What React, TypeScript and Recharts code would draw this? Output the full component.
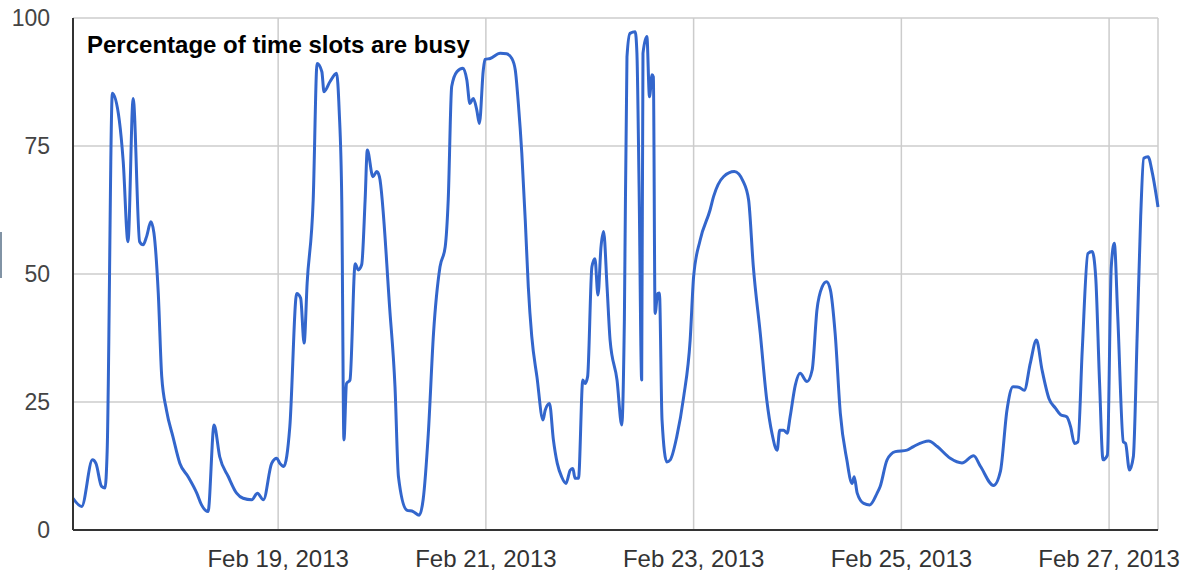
import React from "react";
import { LineChart, Line, XAxis, YAxis, CartesianGrid } from "recharts";

// hours since Feb 17, 2013 00:00
const hours: number[] = [
  0.6, 2.6, 5.1, 5.9, 7.2, 8.0, 8.5, 9.7, 11.3, 12.2, 13.3, 14.5, 16.0, 16.8, 17.6, 18.6, 19.3, 20.3, 21.1, 22.2,
  23.7, 25.3, 27.2, 29.2, 30.3, 31.8, 33.2, 34.5, 36.5, 38.4, 39.9, 41.9, 43.2, 44.6, 46.5, 47.7, 48.4, 49.3, 50.7, 52.3,
  53.2, 54.0, 54.7, 56.1, 57.0, 58.1, 58.6, 60.0, 61.5, 62.1, 62.7, 63.2, 63.8, 64.6, 65.8, 66.5, 67.3, 68.1, 68.6, 69.9,
  70.8, 71.4, 73.8, 75.0, 75.8, 77.7, 79.2, 80.6, 81.5, 82.7, 83.9, 85.4, 86.6, 87.3, 88.1, 89.3, 90.7, 91.6, 92.3, 93.1,
  93.9, 94.5, 95.4, 95.8, 97.0, 99.3, 100.8, 102.0, 102.8, 103.5, 104.3, 105.1, 105.8, 106.6, 107.8, 109.2, 109.7, 110.7, 111.6, 112.5,
  113.5, 114.5, 115.5, 116.1, 116.6, 117.4, 118.4, 118.9, 119.5, 120.5, 121.2, 121.9, 122.6, 123.2, 124.0, 124.7, 126.3, 127.4, 128.0, 128.6,
  129.3, 130.5, 130.9, 131.4, 132.0, 132.3, 133.2, 133.8, 134.4, 134.7, 135.1, 135.7, 136.1, 136.7, 137.8, 138.6, 140.1, 141.7, 143.2, 144.0,
  145.5, 147.8, 148.6, 150.9, 153.4, 155.5, 156.7, 157.8, 159.4, 160.9, 162.1, 163.3, 163.9, 164.8, 165.6, 166.3, 167.5, 168.6, 170.2, 171.4,
  172.5, 173.7, 174.7, 175.6, 176.7, 177.9, 179.4, 180.6, 181.1, 181.8, 183.3, 184.7, 186.4, 187.1, 188.7, 190.6, 193.3, 194.8, 198.3, 200.3,
  203.3, 206.0, 208.7, 210.3, 213.3, 214.9, 216.4, 217.8, 219.1, 220.4, 221.8, 223.2, 224.5, 226.1, 227.6, 228.8, 230.2, 231.1, 232.0, 232.8,
  233.8, 235.1, 236.1, 236.9, 237.8, 238.6, 239.6, 240.5, 241.2, 242.0, 243.3, 243.8, 244.7, 245.6, 246.5, 247.3, 248.0, 249.0, 250.0, 251.3,
];

const busyPct: number[] = [
  6.2, 4.6, 13.7, 13.0, 8.5, 8.2, 15.6, 85.3, 80.0, 72.0, 56.3, 84.3, 56.3, 55.7, 57.3, 60.2, 58.0, 46.3, 30.0, 23.4,
  18.2, 13.0, 10.4, 7.2, 4.9, 3.6, 20.5, 14.3, 10.4, 7.2, 6.2, 5.9, 7.2, 5.9, 13.0, 14.0, 13.0, 12.4, 20.2, 46.2,
  45.3, 36.5, 48.2, 64.5, 91.1, 89.5, 85.6, 87.6, 89.2, 82.0, 64.5, 17.6, 28.6, 29.3, 52.0, 50.8, 51.8, 64.5, 74.2, 69.0,
  70.0, 69.0, 43.0, 28.0, 10.4, 3.9, 3.6, 2.9, 5.9, 18.9, 38.4, 51.4, 55.3, 64.5, 86.6, 89.5, 90.2, 87.9, 83.3, 84.3,
  82.0, 79.4, 89.8, 91.9, 92.1, 93.1, 93.0, 92.1, 89.8, 83.3, 73.6, 60.5, 47.5, 37.8, 29.9, 21.5, 23.4, 24.7, 17.6, 13.0,
  10.4, 9.1, 11.7, 12.0, 10.1, 10.1, 29.3, 28.6, 29.9, 51.4, 53.0, 45.9, 55.3, 58.3, 47.5, 37.1, 29.3, 20.5, 41.0, 92.4,
  97.0, 97.3, 93.1, 67.0, 29.3, 93.1, 96.4, 84.6, 88.9, 88.5, 42.3, 46.2, 46.3, 21.5, 13.3, 13.7, 18.2, 26.0, 37.1, 49.5,
  56.6, 62.5, 65.1, 69.0, 70.0, 68.0, 64.5, 51.4, 38.4, 25.4, 18.9, 15.6, 19.5, 19.5, 18.9, 22.1, 28.3, 30.6, 29.0, 31.3,
  43.0, 47.5, 48.5, 46.9, 38.4, 22.8, 13.7, 9.1, 10.4, 7.2, 5.2, 4.9, 7.2, 8.5, 13.7, 15.3, 15.6, 16.3, 17.4, 16.3,
  14.0, 13.1, 14.5, 12.4, 8.7, 11.5, 23.4, 28.0, 27.9, 27.3, 32.6, 37.1, 31.3, 25.7, 23.8, 22.5, 22.1, 20.2, 16.9, 17.2,
  35.2, 54.0, 54.4, 49.5, 28.7, 13.7, 14.6, 51.4, 56.0, 41.7, 17.2, 16.9, 11.7, 14.3, 38.4, 61.2, 72.6, 72.9, 69.7, 63.1,
];

const xTickHours: number[] = [48, 96, 144, 192, 240];
const xTickLabels: string[] = ["Feb 19, 2013", "Feb 21, 2013", "Feb 23, 2013", "Feb 25, 2013", "Feb 27, 2013"];
const yTicks: number[] = [0, 25, 50, 75, 100];
const title = "Percentage of time slots are busy";

const data = hours.map((h, i) => ({ h, v: busyPct[i] }));
const FONT = "Arial, 'Liberation Sans', sans-serif";

export default function App() {
  return (
    <div style={{ position: "absolute", left: 0, top: 0, width: 1200, height: 573, background: "#fff" }}>
      <LineChart width={1200} height={573} data={data} margin={{ top: 18, right: 42, left: 0, bottom: 13 }}>
        <CartesianGrid stroke="#cccccc" strokeWidth={1.5} />
        <XAxis
          type="number"
          dataKey="h"
          domain={[0.6, 251.3]}
          ticks={xTickHours}
          tickFormatter={(t: number) => xTickLabels[xTickHours.indexOf(t)] ?? ""}
          height={30}
          tickLine={false}
          tickSize={0}
          tickMargin={20}
          axisLine={{ stroke: "#333", strokeWidth: 2 }}
          tick={{ fill: "#333", fontSize: 24, fontFamily: FONT }}
          interval={0}
        />
        <YAxis
          type="number"
          domain={[0, 100]}
          ticks={yTicks}
          width={73}
          tickLine={false}
          tickSize={0}
          tickMargin={23}
          axisLine={{ stroke: "#333", strokeWidth: 2 }}
          tick={{ fill: "#444", fontSize: 23, fontFamily: FONT }}
          interval={0}
        />
        <Line
          type="monotone"
          dataKey="v"
          stroke="#3366cc"
          strokeWidth={3}
          dot={false}
          isAnimationActive={false}
          strokeLinejoin="round"
        />
      </LineChart>
      <svg width={1200} height={573} style={{ position: "absolute", left: 0, top: 0, pointerEvents: "none" }}>
        <text x={87} y={53} fontFamily={FONT} fontWeight="bold" fontSize={24} fill="#000">
          {title}
        </text>
      </svg>
      <div style={{ position: "absolute", left: 0, top: 232, width: 2, height: 46, background: "#8193a5" }} />
    </div>
  );
}
